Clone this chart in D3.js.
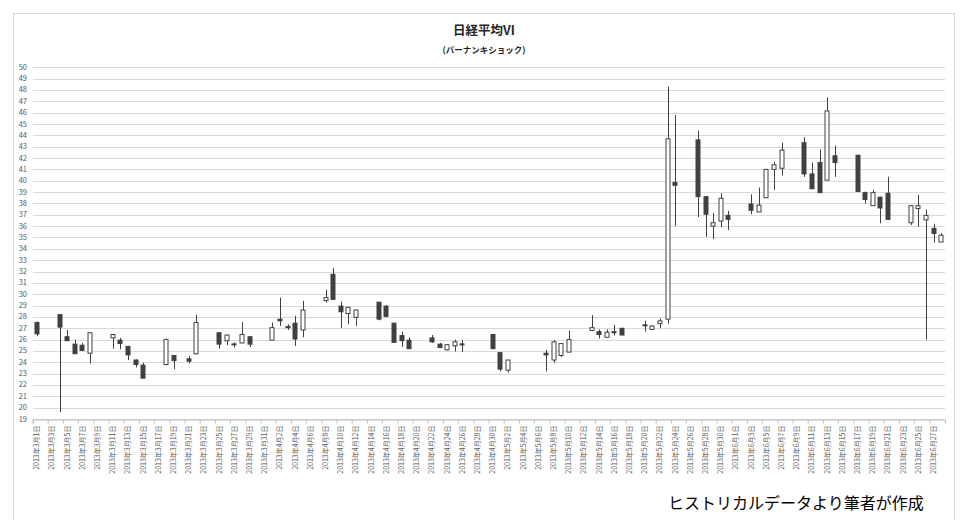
<!DOCTYPE html>
<html><head><meta charset="utf-8">
<script src="https://cdn.jsdelivr.net/npm/d3@7/dist/d3.min.js"></script>
<style>body{margin:0;background:#fff;}svg{display:block;}</style>
</head><body>
<script>
// Trading days (2013) and OHLC of 日経平均VI
const tradeDates = ["3/1","3/4","3/5","3/6","3/7","3/8","3/11","3/12","3/13","3/14","3/15","3/18","3/19","3/21","3/22","3/25","3/26","3/27","3/28","3/29",
"4/1","4/2","4/3","4/4","4/5","4/8","4/9","4/10","4/11","4/12","4/15","4/16","4/17","4/18","4/19","4/22","4/23","4/24","4/25","4/26","4/30",
"5/1","5/2","5/7","5/8","5/9","5/10","5/13","5/14","5/15","5/16","5/17","5/20","5/21","5/22","5/23","5/24","5/27","5/28","5/29","5/30","5/31",
"6/3","6/4","6/5","6/6","6/7","6/10","6/11","6/12","6/13","6/14","6/17","6/18","6/19","6/20","6/21","6/24","6/25","6/26","6/27","6/28"];
const openV  = [27.5,28.2,26.25,25.6,25.5,24.8,26.15,25.95,25.4,24.2,23.75,23.8,24.6,24.3,24.75,26.6,25.9,25.62,25.7,26.25,
25.95,27.8,27.15,27.45,26.85,29.45,31.75,28.95,28.3,27.95,29.3,28.95,27.45,26.35,25.95,26.15,25.6,25.1,25.45,25.62,26.45,
24.85,23.3,24.8,24.2,24.6,24.9,26.8,26.7,26.2,26.7,27.0,27.3,26.9,27.4,27.8,39.85,43.6,38.6,36.0,36.45,36.95,
37.95,37.25,38.5,41.0,41.1,43.35,40.6,41.6,40.05,42.2,42.25,38.95,37.8,38.55,38.9,36.3,37.55,36.55,35.8,34.6];
const highV  = [27.6,28.2,26.85,26.0,25.7,26.6,26.5,26.15,25.45,24.25,23.95,26.1,24.65,24.55,28.2,26.65,26.45,25.75,27.55,26.3,
27.5,29.7,27.35,28.1,29.4,30.4,32.3,29.35,28.85,28.65,29.3,29.05,27.45,26.7,26.2,26.4,25.7,25.6,26.0,25.95,26.5,
24.9,24.2,25.1,25.95,25.7,26.8,28.15,26.9,26.9,27.3,27.0,27.65,27.25,27.85,48.3,45.8,44.4,38.6,37.15,38.9,37.35,
38.8,39.4,41.05,41.65,43.35,43.85,41.6,42.75,47.35,43.1,42.3,39.05,39.2,38.6,40.35,37.85,38.75,37.45,36.2,35.4];
const lowV   = [26.3,19.6,25.9,24.75,25.0,23.9,25.2,25.15,24.2,23.55,22.6,23.75,23.4,23.9,24.7,25.2,25.5,25.3,25.7,25.35,
25.95,27.2,26.85,25.45,26.2,29.25,29.5,27.0,27.35,27.2,27.7,27.95,25.75,25.35,25.15,25.7,25.3,25.05,24.95,24.9,25.15,
23.2,23.1,23.2,23.95,24.45,24.85,26.75,26.1,26.2,26.35,26.4,26.7,26.85,27.0,27.4,36.0,36.8,35.05,34.85,35.9,35.65,
37.05,37.25,38.5,39.2,40.45,40.35,39.25,38.95,40.05,40.35,39.0,38.0,37.8,36.25,36.55,36.1,35.95,26.0,34.55,34.6];
const closeV = [26.5,27.1,25.9,24.75,25.05,26.6,26.45,25.65,24.65,23.8,22.6,26.0,24.15,24.1,27.5,25.6,26.4,25.58,26.45,25.6,
27.05,27.65,27.05,26.05,28.6,29.7,29.55,28.45,28.85,28.6,27.8,28.05,25.75,25.9,25.2,25.8,25.3,25.55,25.8,25.58,25.2,
23.4,24.2,24.65,25.8,25.65,26.0,27.05,26.45,26.65,26.6,26.4,27.25,27.2,27.65,43.7,39.6,38.6,37.05,36.3,38.45,36.6,
37.4,37.85,41.0,41.4,42.7,40.6,39.3,38.95,46.15,41.6,39.05,38.35,38.95,37.6,36.6,37.8,37.8,36.95,35.35,35.2];
const yTicks = d3.range(19, 51);
const titleText = "日経平均VI";
const subTitleText = "(バーナンキショック)";
const footerText = "ヒストリカルデータより筆者が作成";

// calendar categories 3/1 .. 6/28
const allDays = d3.timeDay.range(new Date(2013,2,1), new Date(2013,5,29));
const catKey = d => (d.getMonth()+1) + "/" + d.getDate();
const categories = allDays.map(catKey);
const labelOf = d => "2013年" + (d.getMonth()+1) + "月" + d.getDate() + "日";

const W = 964, H = 520;
const svg = d3.select("body").append("svg").attr("width", W).attr("height", H)
  .style("font-family", "'Noto Sans CJK JP','Noto Sans',sans-serif");

svg.append("rect").attr("x", 13.5).attr("y", 13.5).attr("width", 941).attr("height", 540)
  .attr("fill", "none").attr("stroke", "#d9d9d9");

const x = d3.scaleBand().domain(categories).range([33, 945]).paddingInner(0).paddingOuter(0);
const y = d3.scaleLinear().domain([19, 50]).range([419, 67.3]);

// gridlines
svg.append("g").selectAll("line").data(yTicks).join("line")
  .attr("x1", 33).attr("x2", 945)
  .attr("y1", d => Math.round(y(d)) + 0.5).attr("y2", d => Math.round(y(d)) + 0.5)
  .attr("stroke", "#d9d9d9").attr("stroke-width", 1);

// y labels
svg.append("g").selectAll("text").data(yTicks).join("text")
  .attr("x", 27).attr("y", d => y(d) + 2.5).attr("text-anchor", "end")
  .attr("font-size", 7.5).attr("fill", "#595959").text(d => d);

// x axis
const xAxis = d3.axisBottom(x).tickSize(4)
  .tickValues(categories.filter((c, i) => i % 2 === 0))
  .tickFormat((c) => labelOf(allDays[categories.indexOf(c)]));
const gx = svg.append("g").attr("transform", `translate(0,${Math.round(y(19)) + 0.5})`).call(xAxis);
gx.select(".domain").attr("stroke", "#bfbfbf");
gx.selectAll(".tick line").attr("stroke", "#bfbfbf")
  .attr("transform", `translate(${-x.bandwidth()/2},0)`);
gx.selectAll(".tick text").attr("font-size", 7).attr("fill", "#595959")
  .attr("font-family", "'Noto Sans CJK JP',sans-serif")
  .attr("transform", "rotate(-90)").attr("text-anchor", "end")
  .attr("x", -6).attr("y", 0).attr("dy", "0.35em");

// candles
const data = tradeDates.map((d, i) => ({d, o: openV[i], h: highV[i], l: lowV[i], c: closeV[i]}));
const bw = 5;
const cg = svg.append("g");
cg.selectAll("line").data(data).join("line")
  .attr("x1", d => Math.round(x(d.d) + x.bandwidth()/2) + 0.5)
  .attr("x2", d => Math.round(x(d.d) + x.bandwidth()/2) + 0.5)
  .attr("y1", d => y(d.h)).attr("y2", d => y(d.l))
  .attr("stroke", "#404040").attr("stroke-width", 1);
cg.selectAll("rect").data(data).join("rect")
  .attr("x", d => Math.round(x(d.d) + x.bandwidth()/2) - 2)
  .attr("width", bw - 1)
  .attr("y", d => y(Math.max(d.o, d.c)))
  .attr("height", d => Math.max(1, Math.abs(y(d.o) - y(d.c))))
  .attr("fill", d => d.c < d.o ? "#404040" : "#ffffff")
  .attr("stroke", "#404040").attr("stroke-width", 1);

// titles
svg.append("text").attr("x", 484).attr("y", 35).attr("text-anchor", "middle")
  .attr("font-size", 12.5).attr("font-weight", "bold").attr("fill", "#262626").text(titleText);
svg.append("text").attr("x", 484).attr("y", 53).attr("text-anchor", "middle")
  .attr("font-size", 8.5).attr("font-weight", "bold").attr("fill", "#262626").text(subTitleText);
svg.append("text").attr("x", 668).attr("y", 509)
  .attr("font-size", 16).attr("fill", "#000").text(footerText);
</script>
</body></html>
